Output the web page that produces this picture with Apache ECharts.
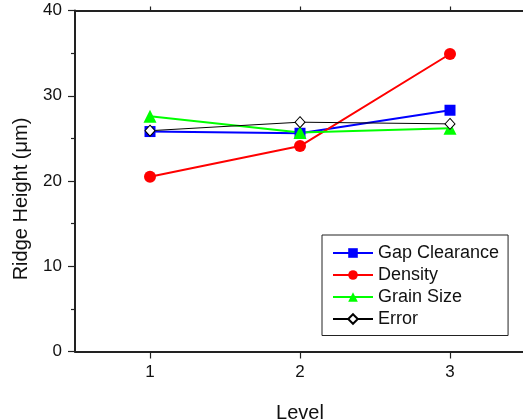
<!DOCTYPE html>
<html><head><meta charset="utf-8">
<script src="https://cdn.jsdelivr.net/npm/echarts@6/dist/echarts.min.js"></script>
<style>html,body{margin:0;padding:0;background:#fff}#c{width:523px;height:420px}</style>
</head><body><div id="c"></div>
<script>
const levels = [1, 2, 3];
const gapClearance = [25.8, 25.6, 28.3];
const density = [20.5, 24.1, 34.9];
const grainSize = [27.6, 25.7, 26.2];
const errorVals = [25.9, 26.9, 26.7];
const yTicks = [0, 10, 20, 30, 40];

const font = 'Liberation Sans, Arial, sans-serif';
const axisCol = '#222';
function pts(v){ return levels.map((l,i)=>[l, v[i]]); }

const chart = echarts.init(document.getElementById('c'));
chart.setOption({
  animation: false,
  grid: {left: 75, top: 10.5, height: 341, width: 450, containLabel: false, outerBoundsMode: 'none'},
  xAxis: [{
    type: 'value', min: 0.5, max: 3.5, interval: 0.5, position: 'bottom',
    name: 'Level', nameLocation: 'middle', nameGap: 52,
    nameTextStyle: {fontFamily: font, fontSize: 20, color: '#111'},
    axisLine: {show: true, lineStyle: {color: axisCol, width: 2}},
    axisTick: {show: true, inside: false, length: 7, customValues: levels, lineStyle: {color: axisCol, width: 1.2}},
    axisLabel: {fontFamily: font, fontSize: 17, color: '#111', margin: 12, customValues: levels},
    splitLine: {show: false}
  }, {
    type: 'value', min: 0.5, max: 3.5, interval: 0.5, position: 'top',
    axisLine: {show: true, lineStyle: {color: axisCol, width: 2}},
    axisTick: {show: true, inside: false, length: 4, customValues: levels, lineStyle: {color: axisCol, width: 1.2}},
    axisLabel: {show: false}, splitLine: {show: false}
  }],
  yAxis: {
    type: 'value', min: 0, max: 40, interval: 10,
    name: 'Ridge Height (\u03bcm)', nameLocation: 'middle', nameGap: 44, nameRotate: 90,
    nameTextStyle: {fontFamily: font, fontSize: 20, color: '#111', padding: [0, 36, 0, 0]},
    axisLine: {show: true, lineStyle: {color: axisCol, width: 2}},
    axisTick: {show: true, inside: false, length: 7, lineStyle: {color: axisCol, width: 1.2}},
    minorTick: {show: true, splitNumber: 2, length: 4, lineStyle: {color: axisCol, width: 1.2}},
    axisLabel: {fontFamily: font, fontSize: 17, color: '#111', margin: 13},
    splitLine: {show: false}
  },
  legend: {
    orient: 'vertical', left: 322, top: 235,
    itemWidth: 40, itemHeight: 12, itemGap: 4,
    padding: [9, 9, 7.5, 10],
    borderColor: '#222', borderWidth: 1, backgroundColor: '#fff',
    textStyle: {fontFamily: font, fontSize: 18, color: '#111'},
    data: ['Gap Clearance', 'Density', 'Grain Size', 'Error']
  },
  series: [
    {name: 'Gap Clearance', type: 'line', data: pts(gapClearance), symbol: 'rect', symbolSize: 11,
      lineStyle: {color: '#0000ff', width: 2}, itemStyle: {color: '#0000ff'}},
    {name: 'Density', type: 'line', data: pts(density), symbol: 'circle', symbolSize: 12,
      lineStyle: {color: '#ff0000', width: 2}, itemStyle: {color: '#ff0000'}},
    {name: 'Grain Size', type: 'line', data: pts(grainSize), symbol: 'triangle', symbolSize: 13,
      lineStyle: {color: '#00ff00', width: 2}, itemStyle: {color: '#00ff00'}},
    {name: 'Error', type: 'line', data: pts(errorVals), symbol: 'diamond', symbolSize: [10, 11],
      lineStyle: {color: '#000', width: 1}, itemStyle: {color: '#fff', borderColor: '#000', borderWidth: 1}}
  ]
});
</script></body></html>
